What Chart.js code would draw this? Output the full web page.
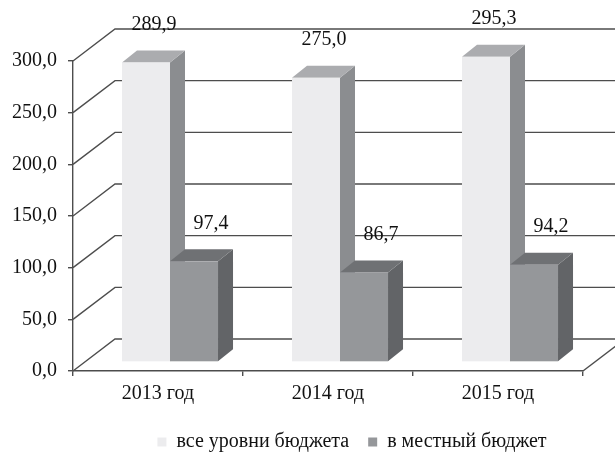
<!DOCTYPE html>
<html lang="ru">
<head>
    <meta charset="UTF-8">
    <title>Бюджет</title>
    <script src="https://cdn.jsdelivr.net/npm/chart.js"></script>
    <style>
        html, body { margin: 0; padding: 0; background: #fff; }
        #wrap { width: 615px; height: 456px; }
    </style>
</head>
<body>
    <div id="wrap"><canvas id="budgetChart"></canvas></div>

    <script>
        const years = ['2013 год', '2014 год', '2015 год'];
        const allLevels = [289.9, 275.0, 295.3];
        const localBudget = [97.4, 86.7, 94.2];
        const seriesNames = ['все уровни бюджета', 'в местный бюджет'];

        // 3d look: wall depth, bar plane shift, bar depth
        const WALL_DX = 42, WALL_DY = -32;
        const SHIFT_X = 12, SHIFT_Y = -9;
        const BAR_DX = 15, BAR_DY = -12;
        const faces = [
            { front: '#ececee', top: '#abacaf', side: '#8b8d90' },
            { front: '#95979a', top: '#6f7174', side: '#626467' }
        ];
        const labelDx = [8, 17];
        const FONT = '"Liberation Serif", "Times New Roman", serif';
        const FSIZE = 20;

        const fmt = v => v.toFixed(1).replace('.', ',');

        const walls = {
            id: 'walls',
            beforeDatasetsDraw(chart) {
                const { ctx, chartArea: a, scales: { y } } = chart;
                ctx.save();
                ctx.strokeStyle = '#4d4d4d';
                ctx.lineWidth = 1.4;
                y.ticks.forEach(t => {
                    const py = y.getPixelForValue(t.value);
                    ctx.beginPath();
                    ctx.moveTo(a.left, py);
                    ctx.lineTo(a.left + WALL_DX, py + WALL_DY);
                    ctx.lineTo(a.right + WALL_DX, py + WALL_DY);
                    ctx.stroke();
                });
                ctx.beginPath();
                ctx.moveTo(a.right, a.bottom);
                ctx.lineTo(a.right + WALL_DX, a.bottom + WALL_DY);
                ctx.stroke();
                ctx.restore();
            },
            beforeDatasetDraw() {
                return false;
            },
            afterDatasetsDraw(chart) {
                const ctx = chart.ctx;
                ctx.save();
                chart.data.datasets.forEach((ds, i) => {
                    const meta = chart.getDatasetMeta(i);
                    const f = faces[i];
                    meta.data.forEach(el => {
                        const p = el.getProps(['x', 'y', 'base', 'width'], true);
                        const l = p.x - p.width / 2 + SHIFT_X;
                        const r = p.x + p.width / 2 + SHIFT_X;
                        const t = p.y + SHIFT_Y;
                        const b = p.base + SHIFT_Y;
                        ctx.fillStyle = f.side;
                        ctx.beginPath();
                        ctx.moveTo(r, t);
                        ctx.lineTo(r + BAR_DX, t + BAR_DY);
                        ctx.lineTo(r + BAR_DX, b + BAR_DY);
                        ctx.lineTo(r, b);
                        ctx.closePath();
                        ctx.fill();
                        ctx.fillStyle = f.top;
                        ctx.beginPath();
                        ctx.moveTo(l, t);
                        ctx.lineTo(r, t);
                        ctx.lineTo(r + BAR_DX, t + BAR_DY);
                        ctx.lineTo(l + BAR_DX, t + BAR_DY);
                        ctx.closePath();
                        ctx.fill();
                        ctx.fillStyle = f.front;
                        ctx.fillRect(l, t, r - l, b - t);
                    });
                });
                // value labels
                ctx.fillStyle = '#111';
                ctx.font = FSIZE + 'px ' + FONT;
                ctx.textAlign = 'center';
                ctx.textBaseline = 'middle';
                chart.data.datasets.forEach((ds, i) => {
                    chart.getDatasetMeta(i).data.forEach((el, j) => {
                        const p = el.getProps(['x', 'y'], true);
                        ctx.fillText(fmt(ds.data[j]), p.x + SHIFT_X + labelDx[i], p.y + SHIFT_Y - 38);
                    });
                });
                ctx.restore();
            },
            afterLayout(chart) {
                // Excel centres the legend on the plot incl. its depth
                chart.legend.left += 24;
                chart.legend.right += 24;
                chart.legend.top += 6;
                chart.legend.bottom += 6;
            }
        };

        const ctx = document.getElementById('budgetChart').getContext('2d');
        const chart = new Chart(ctx, {
            type: 'bar',
            data: {
                labels: years,
                datasets: [
                    { label: seriesNames[0], data: allLevels, backgroundColor: faces[0].front },
                    { label: seriesNames[1], data: localBudget, backgroundColor: faces[1].front }
                ]
            },
            options: {
                responsive: true,
                maintainAspectRatio: false,
                animation: false,
                layout: { padding: { top: 61, right: 32, left: 0, bottom: 0 } },
                datasets: {
                    bar: { categoryPercentage: 0.565, barPercentage: 1 }
                },
                plugins: {
                    tooltip: { enabled: false },
                    legend: {
                        position: 'bottom',
                        fullSize: false,
                        labels: {
                            boxWidth: 9,
                            boxHeight: 9,
                            padding: 19,
                            color: '#111',
                            font: { family: FONT, size: FSIZE }
                        }
                    }
                },
                scales: {
                    x: {
                        grid: { drawOnChartArea: false, tickLength: 5, color: '#4d4d4d', lineWidth: 1.4 },
                        border: { color: '#4d4d4d', width: 1.4 },
                        ticks: { color: '#111', padding: 6, font: { family: FONT, size: FSIZE } },
                        afterFit(s) { s.height = 36; }
                    },
                    y: {
                        min: 0,
                        max: 300,
                        ticks: {
                            stepSize: 50,
                            padding: 11,
                            color: '#111',
                            font: { family: FONT, size: FSIZE },
                            callback: v => fmt(v)
                        },
                        grid: { drawOnChartArea: false, tickLength: 5, color: '#4d4d4d', lineWidth: 1.4 },
                        border: { color: '#4d4d4d', width: 1.4 },
                        afterFit(s) { s.width = 73; }
                    }
                }
            },
            plugins: [walls]
        });
    </script>
</body>
</html>
